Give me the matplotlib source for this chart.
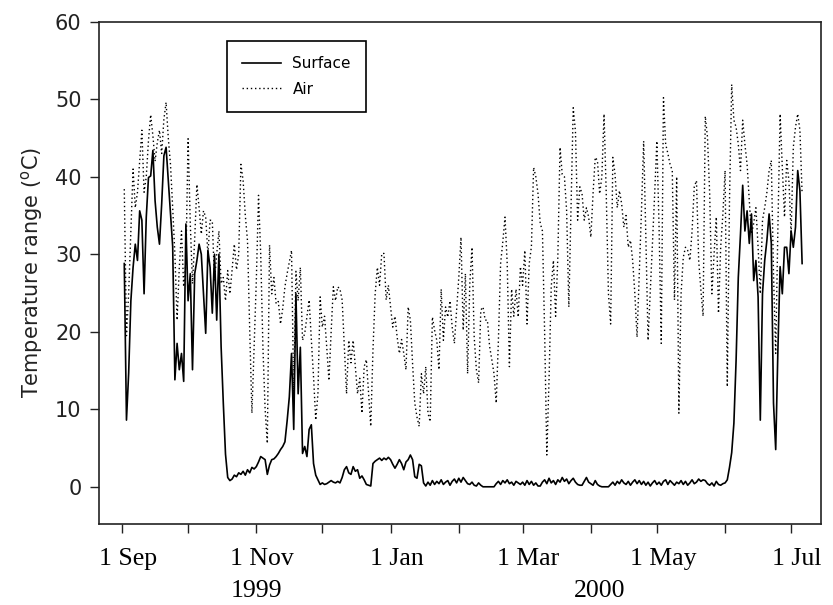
import matplotlib
matplotlib.use("Agg")
import matplotlib.pyplot as plt
import matplotlib.transforms as mtransforms
import pandas as pd

# ---------------- data (daily, from 2 Sep 1999) ----------------
start_date = "1999-09-02"

surface_sep = [28.8, 8.6, 14.7, 24, 28.3, 31.3, 29.2, 35.6, 34.4, 24.9, 34.8, 39.9, 40.1, 43.4, 36.9,
               33.5, 31.3, 36.5, 42.7, 43.8, 39.5, 35.2, 31, 13.8, 18.5, 15.1, 17.2, 13.6, 33.9]
surface_oct = [24, 27.5, 15.1, 27.5, 29.2, 31.3, 30, 24.9, 19.8, 30.5, 28.3, 22.4, 30, 21.5, 30, 18.1,
               10.8, 4.2, 1.2, 0.8, 1.0, 1.5, 1.3, 1.8, 1.6, 2.0, 1.5, 2.2, 1.8, 2.5, 2.3]
surface_nov = [2.6, 3.2, 3.9, 3.7, 3.5, 1.6, 2.8, 3.5, 3.6, 3.9, 4.3, 4.8, 5.2, 5.8, 8.5, 11.6, 17.2,
               7.4, 24.9, 12, 18, 4.3, 5.2, 3.9, 7.4, 8, 3, 1.5, 0.9, 0.3]
surface_dec = [0.5, 0.3, 0.4, 0.6, 0.8, 0.6, 0.5, 0.7, 0.5, 1.2, 2.2, 2.6, 1.8, 1.6, 2.6, 2.0, 2.2,
               1.1, 1.4, 0.9, 0.3, 0.2, 0.1, 3.0, 3.3, 3.5, 3.7, 3.4, 3.7, 3.5, 3.8]
surface_jan = [3.5, 2.9, 2.4, 2.9, 3.5, 3.0, 2.2, 3.2, 3.5, 4.1, 3.5, 1.3, 1.1, 2.9, 2.7, 0.5, 0.1,
               0.6, 0.2, 0.8, 0.3, 0.7, 0.4, 0.9, 0.3, 0.6, 0.8, 0.2, 0.7, 1.0, 0.5]
surface_feb = [1.1, 0.6, 1.2, 0.8, 0.4, 0.3, 0.6, 0.2, 0.1, 0.5, 0.2, 0.0, 0.0, 0.0, 0.0, 0.0, 0.0,
               0.4, 0.7, 0.3, 0.8, 0.5, 0.9, 0.4, 0.6, 0.2, 0.7, 0.5, 0.3]
surface_mar = [0.6, 0.2, 0.8, 0.3, 0.7, 0.2, 0.5, 0.1, 0.1, 0.6, 0.9, 0.4, 1.1, 0.5, 0.8, 0.3, 0.9,
               0.6, 1.2, 0.7, 1.0, 0.4, 0.8, 1.1, 0.6, 0.3, 0.2, 0.2, 0.7, 1.2, 0.6]
surface_apr = [0.4, 0.2, 0.8, 0.3, 0.1, 0.0, 0.0, 0.0, 0.0, 0.3, 0.6, 0.2, 0.7, 0.4, 0.9, 0.5, 0.3,
               0.7, 0.2, 0.6, 0.9, 0.4, 0.8, 0.3, 0.7, 0.2, 0.6, 0.1, 0.5, 0.8]
surface_may = [0.3, 0.6, 0.2, 0.7, 0.9, 0.3, 0.8, 0.5, 0.2, 0.6, 0.4, 0.8, 0.3, 0.7, 0.2, 0.5, 0.9,
               0.4, 0.6, 1.0, 0.7, 0.9, 0.8, 0.4, 0.2, 0.5, 0.1, 0.7, 0.3, 0.2, 0.4]
surface_jun = [0.5, 0.9, 2.5, 4.4, 8.2, 16.3, 27, 32.6, 38.9, 33, 35.6, 31.4, 35.2, 26.6, 29.2, 24.5,
               8.6, 24.9, 29.2, 31.8, 35.2, 31.4, 10.8, 4.8, 17.7, 28.4, 24.9, 30.9, 30.9, 27.5]
surface_jul = [33, 30.9, 33.5, 40.8, 38.2, 28.8]

air_sep = [38.4, 19.5, 25, 33, 41, 36, 38, 42, 46, 38, 40, 44.7, 48, 45.3, 42, 44.4, 46, 43, 47.4,
           49.6, 45, 41.6, 36, 30, 21.5, 28.3, 33, 25.8, 29]
air_oct = [44.9, 33.9, 26.2, 32, 39, 36, 32.6, 35.6, 34.8, 30, 34.4, 34.3, 26.6, 30, 33, 26.2, 27,
           24, 27.9, 24.9, 28, 31.3, 28, 30, 41.6, 39.5, 35, 31.7, 20.2, 9.5, 18]
air_nov = [26.6, 37.6, 30, 18, 10, 5.6, 31.2, 24.9, 27, 23.6, 23.9, 21, 23, 25.8, 27.5, 29, 30.5,
           12, 27.8, 24, 28.3, 18.9, 19.8, 22, 24.1, 19, 14.2, 8.6, 12, 24.5]
air_dec = [20.6, 22, 18, 13.7, 20, 25.8, 24, 25.8, 25.5, 24.1, 18, 12, 18.9, 16, 18.9, 15.5, 12, 14,
           9.5, 15.5, 16.4, 12, 7.8, 17.6, 24.9, 28.3, 26, 30.1, 30.1, 24.1, 26]
air_jan = [23.2, 20.6, 22, 19.3, 17.2, 19, 17.2, 15.1, 23.2, 21.5, 15.9, 10.8, 9.0, 7.8, 14.6, 12,
           15.5, 9.5, 8.4, 21.9, 20.2, 18.9, 15.1, 25.5, 18.9, 23.2, 21.9, 24, 20.6, 18.5, 22.8]
air_feb = [27, 32.2, 20.2, 27.5, 14.6, 26.2, 30.9, 19.3, 15.1, 13.4, 22.8, 23.2, 21.5, 21.5, 18.1,
           16.4, 14.6, 10.8, 18.9, 28.8, 31.6, 34.8, 28.8, 15.5, 25.5, 22, 25.5, 21.9, 28.4]
air_mar = [26, 30.5, 21, 28.8, 31, 41.2, 40, 37.8, 34, 33, 20, 4.1, 13.8, 25.8, 29.2, 22, 29.6, 43.8,
           40.3, 40, 35.6, 23.2, 36, 48.9, 45.9, 34.4, 38.7, 37.8, 34.4, 36, 34.8]
air_apr = [32.2, 37.8, 42.5, 42.1, 37.8, 40, 48.1, 37.8, 24.9, 21, 42.5, 40.3, 36, 38.2, 36.5, 33.5,
           35, 30.9, 31.8, 29.2, 24.9, 19.3, 27.5, 35.6, 44.6, 32.2, 18.9, 25, 31.4, 37.8]
air_may = [44.6, 33.5, 18.5, 50.2, 44.2, 43, 41.6, 40.8, 24.1, 40, 9.5, 24.9, 29.6, 30.9, 30.5, 29.2,
           33, 38.7, 39.5, 29.2, 25.4, 22, 47.8, 45.1, 37.8, 24.9, 30, 34.8, 22.4, 30.9, 35.2]
air_jun = [40.8, 12.9, 36.9, 51.9, 47.3, 46.4, 44.2, 40.8, 47.3, 44.2, 41.6, 36.9, 32.6, 34, 36, 30.9,
           24.9, 34.4, 36, 38, 40.8, 42.1, 27.5, 17.2, 33.5, 48.1, 41.2, 34.8, 42.1, 39.5]
air_jul = [32.6, 43.8, 46.4, 48.1, 46, 37.8]

tick_months = ["1999-09-01", "1999-10-01", "1999-11-01", "1999-12-01", "2000-01-01", "2000-02-01",
               "2000-03-01", "2000-04-01", "2000-05-01", "2000-06-01", "2000-07-01"]
tick_labels = ["1 Sep", "", "1 Nov", "", "1 Jan", "", "1 Mar", "", "1 May", "", "1 Jul"]
year_labels = ["1999", "2000"]
year_positions = ["1999-11-01", "2000-04-05"]
y_ticks = [0, 10, 20, 30, 40, 50, 60]

surface = (surface_sep + surface_oct + surface_nov + surface_dec + surface_jan + surface_feb +
           surface_mar + surface_apr + surface_may + surface_jun + surface_jul)
air = (air_sep + air_oct + air_nov + air_dec + air_jan + air_feb + air_mar + air_apr + air_may +
       air_jun + air_jul)

dates_s = pd.date_range(start_date, periods=len(surface), freq="D")
dates_a = pd.date_range(start_date, periods=len(air), freq="D")

# ---------------- figure ----------------
fig = plt.figure(figsize=(8.33, 6.05), dpi=100)
ax = fig.add_axes([0.1188, 0.1339, 0.8668, 0.8302])

ax.plot(dates_s, surface, color="black", lw=1.2, label="Surface")
ax.plot(dates_a, air, color="black", lw=1.0, linestyle=(0, (1, 2)), label="Air")

ax.set_xlim(pd.Timestamp("1999-08-21 12:00"), pd.Timestamp("2000-07-14 14:00"))
ax.set_ylim(-4.8, 60)

ax.set_xticks([pd.Timestamp(t) for t in tick_months])
ax.set_xticklabels([""] * len(tick_months))

# x tick labels drawn as text (slightly right of the tick, as in the original)
offset = mtransforms.ScaledTranslation(6 / 100, 0, fig.dpi_scale_trans)
trans_xa = mtransforms.blended_transform_factory(ax.transData, ax.transAxes) + offset
for t, lab in zip(tick_months, tick_labels):
    if lab:
        ax.text(pd.Timestamp(t), -0.0816, lab, transform=trans_xa, ha="center", va="baseline",
                fontfamily="Liberation Serif", fontsize=18.5, clip_on=False)

ax.set_yticks(y_ticks)
ax.set_yticklabels([str(v) for v in y_ticks], fontfamily="DejaVu Sans", fontsize=15,
                   color="#222222")

ax.tick_params(axis="both", direction="out", length=6.5, width=1.0, color="#222222")
ax.tick_params(axis="y", pad=6)

for sp in ax.spines.values():
    sp.set_linewidth(1.2)
    sp.set_color("#222222")

ax.set_ylabel("Temperature range ($\\mathregular{^{o}}$C)", fontfamily="DejaVu Sans",
              fontsize=15, labelpad=7, color="#222222")

trans_yf = mtransforms.blended_transform_factory(ax.transData, fig.transFigure)
for lab, pos in zip(year_labels, year_positions):
    ax.text(pd.Timestamp(pos), 0.014, lab, transform=trans_yf, ha="center", va="baseline",
            fontfamily="Liberation Serif", fontsize=18.5, clip_on=False)

leg = ax.legend(loc="upper left", bbox_to_anchor=(0.1769, 0.962), borderaxespad=0,
                frameon=True, fancybox=False, edgecolor="black", framealpha=1,
                prop={"family": "DejaVu Sans", "size": 11}, handlelength=2.55,
                handletextpad=0.75, borderpad=1.0, labelspacing=0.7)
leg.get_frame().set_linewidth(1.2)

fig.savefig("out.png", dpi=100)
